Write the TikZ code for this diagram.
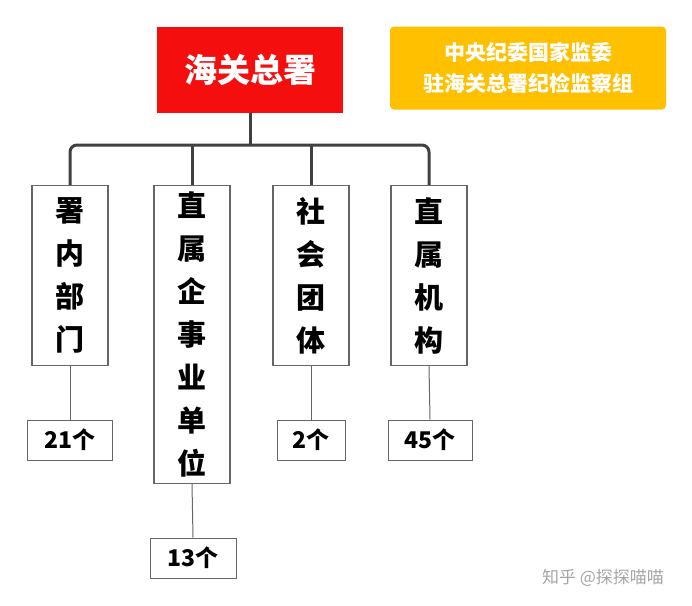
\documentclass[tikz,border=0pt]{standalone}
\usepackage{fontspec}
\setmainfont{Noto Sans CJK SC}
\usepackage{tikz}
\definecolor{hgred}{HTML}{F40E0E}
\definecolor{hgyellow}{HTML}{FFC000}
\definecolor{hgline}{HTML}{404040}
\tikzset{
  unit/.style={draw=hgline!80, line width=1.2pt, fill=white, minimum width=76pt, align=center,
    font=\fontsize{29}{43}\selectfont\bfseries, anchor=north, inner sep=0pt},
  cnt/.style={draw=hgline!80, line width=1pt, fill=white, minimum height=40pt,
    font=\fontsize{23}{26}\selectfont\bfseries, inner sep=0pt},
  bus/.style={hgline, line width=3pt, rounded corners=7pt},
  tie/.style={hgline!80, line width=1pt}
}
\begin{document}
\begin{tikzpicture}[x=1pt,y=-1pt]
				\useasboundingbox (0,0) rectangle (692,605);
				\node[fill=hgred, text=white, minimum width=186pt, minimum height=86pt,
				  font=\fontsize{33}{36}\selectfont\bfseries] (hq) at (250,70) {海关总署};
				\node[fill=hgyellow, rounded corners=4pt, text=white, minimum width=276pt, minimum height=83pt,
				  align=center, font=\fontsize{21}{31}\selectfont\bfseries] (jw) at (528,68)
				  {中央纪委国家监委\\驻海关总署纪检监察组};
				
				% four units
				\foreach \n/\x/\h/\t in
				{sn/70/180/署\\内\\部\\门, zq/192/298/直\\属\\企\\事\\业\\单\\位,
				 sh/311/180/社\\会\\团\\体, zj/429/180/直\\属\\机\\构}{
					\node[unit, minimum height=\h pt] (\n) at (\x,185) {\t};
				}
				
				% counts
				\node[cnt, minimum width=85pt] (c1) at (70,440) {21个};
				\node[cnt, minimum width=86pt] (c2) at (193,558) {13个};
				\node[cnt, minimum width=68pt] (c3) at (311,440) {2个};
				\node[cnt, minimum width=84pt] (c4) at (430,440) {45个};
				
				\coordinate (mid) at (250,145);
				\draw[bus] (hq.south) -- (mid);
				\draw[bus] (sn.north) -- (70,145) -- (zj.north |- mid) -- (zj.north);
				\foreach \x in {zq,sh}{
					\draw[bus] (\x.north) -- (\x.north |- mid);
				}
				\foreach \x/\y in {sn/c1,zq/c2,sh/c3,zj/c4}{
					\draw[tie] (\x.south) -- (\y.north);
				}
				\node[text=gray!70, font=\fontsize{17}{18}\selectfont] (wm) at (603,578) {知乎 @探探喵喵};
			\end{tikzpicture}
\end{document}
